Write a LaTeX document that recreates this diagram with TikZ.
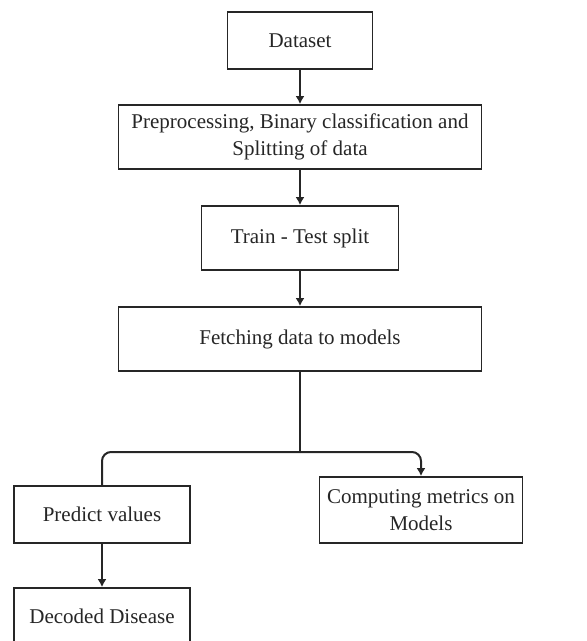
\documentclass[tikz,border=0pt]{standalone}
\usepackage{fontspec}
\setmainfont{Liberation Serif}
\usetikzlibrary{arrows.meta}

\tikzset{
    stagebox/.style={draw=black!85, line width=1.8pt, fill=white, align=center,
        inner sep=0pt, font=\fontsize{21}{27}\selectfont, text=black!85},
    flow/.style={line width=2pt, draw=black!85},
    flowarrow/.style={flow, -{Latex[length=8pt,width=9pt]}}
}

\begin{document}
\begin{tikzpicture}[x=1pt, y=1pt]
            % ==== FRAME ====
            \useasboundingbox (0,0) rectangle (587,-641);
            \clip (0,0) rectangle (587,-641);

            % ==== STAGES ====
            \node[stagebox, minimum width=145pt, minimum height=57pt] (data) at (300,-40.5) {Dataset};
            \node[stagebox, minimum width=363pt, minimum height=64pt] (prep) at (300,-137) {Preprocessing, Binary classification and\\Splitting of data};
            \node[stagebox, minimum width=197pt, minimum height=64pt] (split) at (300,-238) {Train - Test split};
            \node[stagebox, minimum width=363pt, minimum height=64pt] (fetch) at (300,-339) {Fetching data to models};
            \node[stagebox, minimum width=176pt, minimum height=57pt] (predict) at (102,-514.5) {Predict values};
            \node[stagebox, minimum width=203pt, minimum height=66pt] (metrics) at (421,-510) {Computing metrics on\\Models};
            \node[stagebox, minimum width=176pt, minimum height=57pt] (decoded) at (102,-616.5) {Decoded Disease};

            % ==== MAIN FLOW ====
            \draw[flowarrow] (data) -- (prep);
            \draw[flowarrow] (prep) -- (split);
            \draw[flowarrow] (split) -- (fetch);

            % ==== FORK ====
            \draw[flow] (fetch.south) -- (300,-452) coordinate (fork);
            \draw[flow, rounded corners=9pt] (fork) -| (predict.north);
            \draw[flowarrow, rounded corners=9pt] (fork) -| (metrics.north);

            % ==== RESULT ====
            \draw[flowarrow] (predict) -- (predict |- decoded.north);
        \end{tikzpicture}
\end{document}
